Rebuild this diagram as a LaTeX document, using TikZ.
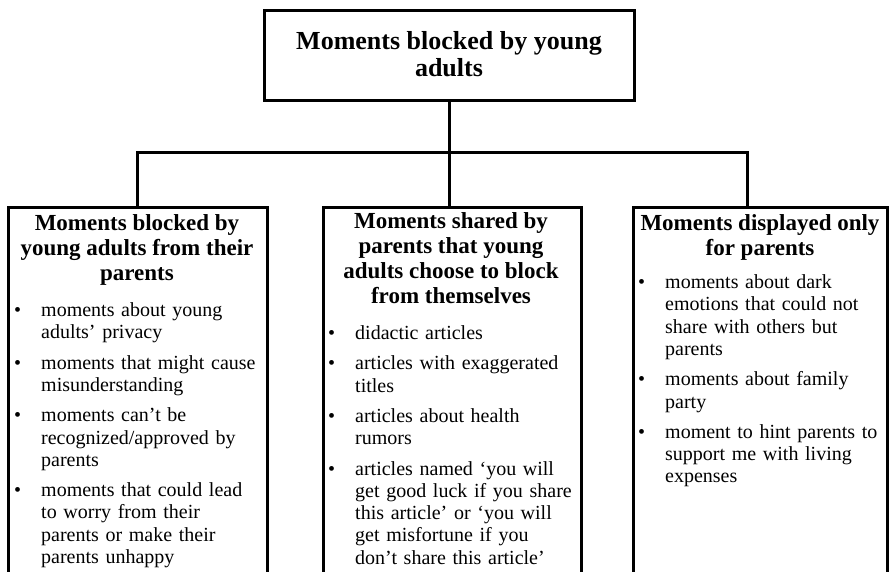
\documentclass[tikz,border=0pt]{standalone}
\usepackage{fontspec}
\setmainfont{Liberation Serif}
\newenvironment{blist}{\begin{list}{\textbullet}{\setlength\leftmargin{27pt}\setlength\labelwidth{27pt}\setlength\labelsep{0pt}\setlength\itemsep{8pt}\setlength\parsep{0pt}\setlength\topsep{0pt}\setlength\partopsep{0pt}\def\makelabel##1{##1\hfil}}\raggedright}{\end{list}}
\begin{document}
\begin{tikzpicture}[x=1pt,y=-1pt,
  boxframe/.style={draw, line width=3pt, anchor=north west, inner sep=0pt},
  headtext/.style={anchor=north, inner sep=0pt, align=center, font=\fontsize{23}{25}\selectfont\bfseries},
  bodytext/.style={anchor=north west, inner sep=0pt, font=\fontsize{20}{22.3}\selectfont},
  conn/.style={line width=3pt}]
\useasboundingbox (0,0) rectangle (889,571);
\clip (0,0) rectangle (889,571);
% top box
\node[boxframe, minimum width=370pt, minimum height=90pt] (T) at (263,9) {};
\node[anchor=center, inner sep=0pt, align=center, font=\fontsize{26}{27}\selectfont\bfseries] (Tt) at (449,54) {Moments blocked by young\\adults};
% three boxes
\node[boxframe, minimum width=259pt, minimum height=390pt] (L) at (7,206) {};
\node[boxframe, minimum width=258pt, minimum height=390pt] (M) at (322,206) {};
\node[boxframe, minimum width=254pt, minimum height=390pt] (R) at (632,206) {};
% connectors
\coordinate (jl) at (137,152);
\coordinate (jm) at (449,152);
\coordinate (jr) at (747,152);
\draw[conn] (T.south -| jm) -- (jm);
\draw[conn] (jl |- L.north) -- (jl) -- (jr) -- (jr |- R.north);
\draw[conn] (jm) -- (jm |- M.north);
% headers
\node[headtext] (Lh) at (137,214) {Moments blocked by\\young adults from their\\parents};
\node[headtext] (Mh) at (451,212) {Moments shared by\\parents that young\\adults choose to block\\from themselves};
\node[headtext] (Rh) at (760,214) {Moments displayed only\\for parents};
% lists
\node[bodytext, text width=250pt] (Lb) at (14,294) {\begin{blist}
\item moments about young\newline adults’ privacy
\item moments that might cause\newline misunderstanding
\item moments can’t be\newline recognized/approved by\newline parents
\item moments that could lead\newline to worry from their\newline parents or make their\newline parents unhappy
\end{blist}};
\node[bodytext, text width=250pt] (Mb) at (328,317) {\begin{blist}
\item didactic articles
\item articles with exaggerated\newline titles
\item articles about health\newline rumors
\item articles named ‘you will\newline get good luck if you share\newline this article’ or ‘you will\newline get misfortune if you\newline don’t share this article’
\end{blist}};
\node[bodytext, text width=250pt] (Rb) at (638,266) {\begin{blist}
\item moments about dark\newline emotions that could not\newline share with others but\newline parents
\item moments about family\newline party
\item moment to hint parents to\newline support me with living\newline expenses
\end{blist}};
\end{tikzpicture}
\end{document}
